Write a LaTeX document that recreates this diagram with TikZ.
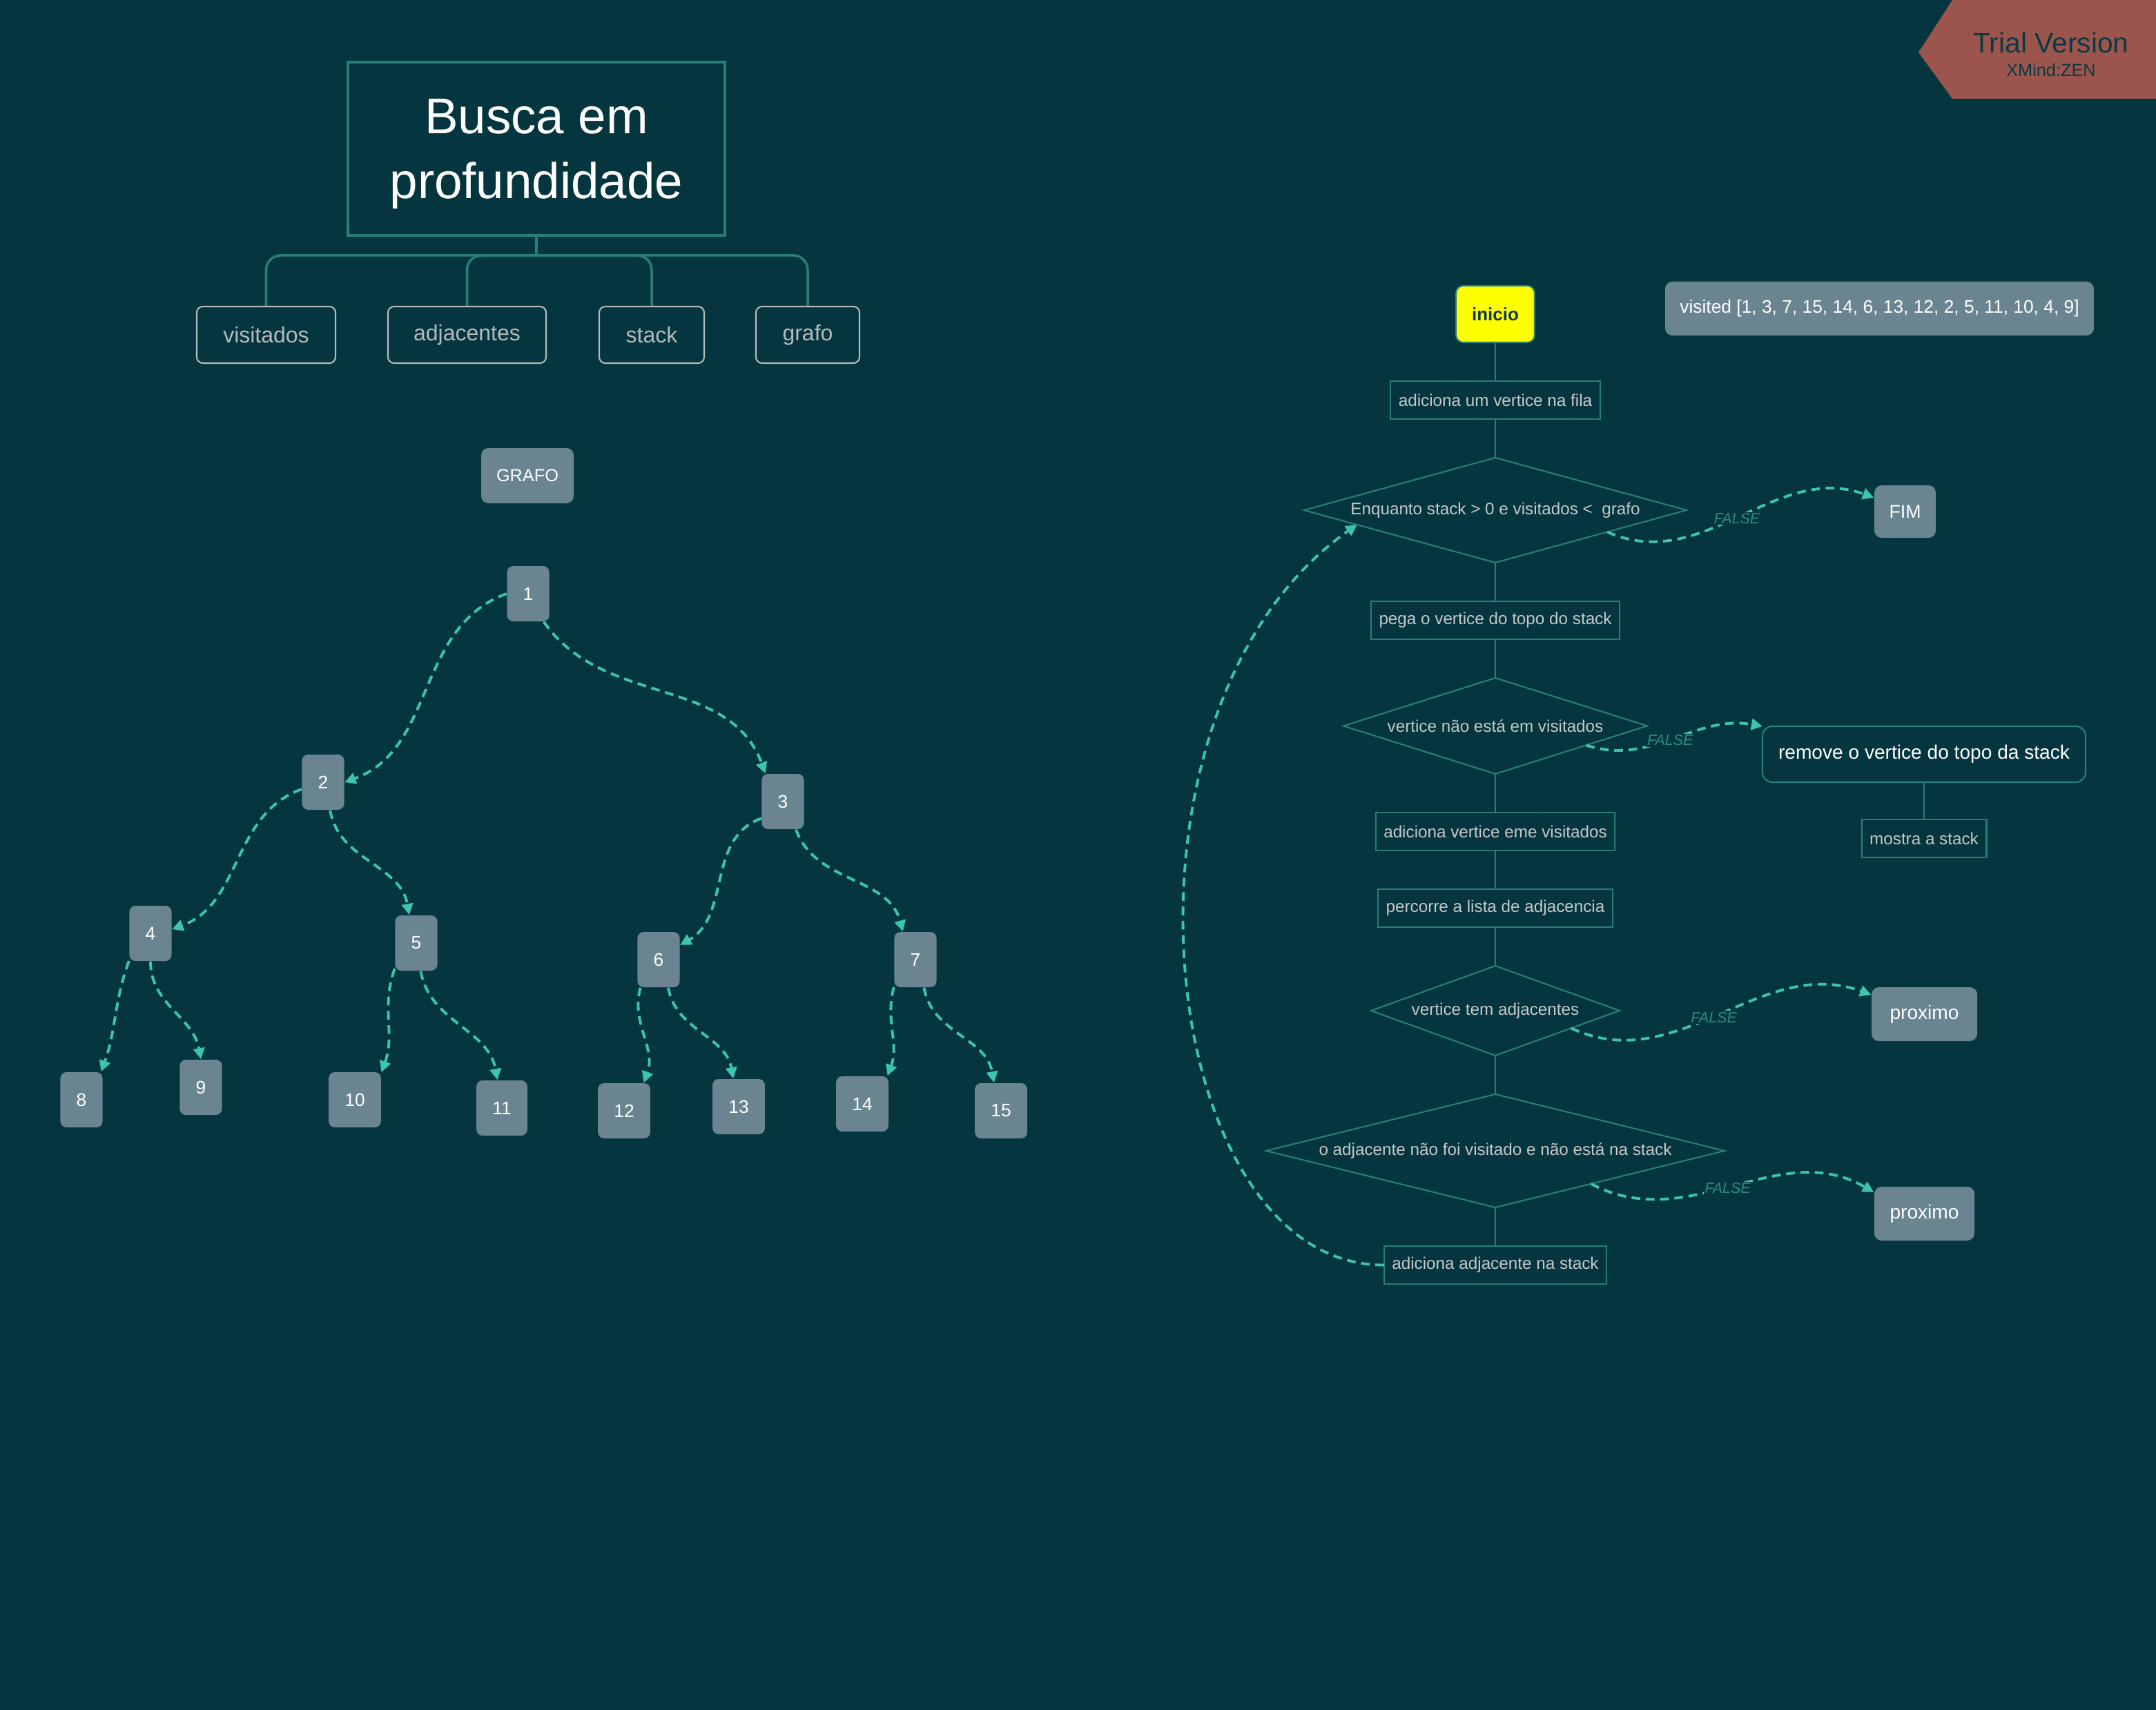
\documentclass[tikz,border=0pt]{standalone}
\usepackage{fontspec}
\setmainfont{Liberation Sans}
\usepackage{tikz}
\usetikzlibrary{positioning,arrows.meta,shapes.geometric}
\definecolor{bgc}{HTML}{05363F}
\definecolor{rim}{HTML}{2A7E79}
\definecolor{walk}{HTML}{3CC4B0}
\definecolor{slate}{HTML}{6A8590}
\definecolor{soft}{HTML}{C4C8C8}
\definecolor{pale}{HTML}{B5BABA}
\definecolor{falsec}{HTML}{2C8C82}
\definecolor{banner}{HTML}{9B554C}
\definecolor{bannerink}{HTML}{0B3A44}
\definecolor{startc}{HTML}{FFFF00}
\newcommand{\fsz}[1]{\fontsize{#1}{#1}\selectfont}

\begin{document}
\begin{tikzpicture}[font=\fsz{6.9}, node distance=0.56cm,
    walk/.style={draw=walk, line width=1.1pt, dash pattern=on 3.6pt off 2.3pt, -{Triangle[length=4.6pt,width=4.6pt]}},
    stem/.style={draw=rim, line width=0.5pt},
    branch/.style={draw=rim, line width=1pt, rounded corners=6pt},
    topic/.style={draw=pale, line width=0.6pt, rounded corners=2.5pt, text=pale, minimum height=0.82cm, font=\fsz{9.1}},
    vtx/.style={fill=slate, rounded corners=2.5pt, text=white, minimum width=0.6cm, minimum height=0.8cm, inner xsep=6.6pt, font=\fsz{7.5}},
    card/.style={fill=slate, rounded corners=3pt, text=white, inner sep=0pt},
    stepbox/.style={draw=rim, line width=0.6pt, text=soft, minimum height=0.55cm, inner xsep=3.3pt, outer sep=0pt},
    cond/.style={diamond, draw=rim, line width=0.6pt, text=soft, inner sep=0pt, outer sep=0pt},
    falsetag/.style={font=\itshape\fsz{6.1}, text=falsec, fill=bgc, inner sep=0.5pt}]

  \fill[bgc] (0,0) rectangle (31.23,-24.77);
  \useasboundingbox (0,0) rectangle (31.23,-24.77);

  \node[draw=rim, line width=1.1pt, text=white, align=center, minimum width=5.46cm, minimum height=2.51cm,
    text depth=0pt, font=\fontsize{20.7}{26.7}\selectfont] (title) at (7.77,-2.155) {Busca em\\profundidade};
  \node[topic, minimum width=2.01cm] (vis) at (3.855,-4.85) {visitados};
  \node[topic, minimum width=2.29cm] (adj) at (6.765,-4.85) {adjacentes};
  \node[topic, minimum width=1.52cm] (stk) at (9.44,-4.85) {stack};
  \node[topic, minimum width=1.50cm] (gfo) at (11.70,-4.85) {grafo};
  \draw[branch] (title.south) -- ++(0,-0.27) coordinate (hub);
  \draw[branch] (vis.north) |- (hub) -| (gfo.north);
  \draw[branch] (adj.north) |- (hub) -| (stk.north);

  \node[card, minimum width=1.34cm, minimum height=0.8cm, font=\fsz{7.2}] (grafo) at (7.64,-6.89) {GRAFO};

  \node[vtx] (v1) at (7.65,-8.60) {1};
  \node[vtx] (v2) at (4.68,-11.33) {2};
  \node[vtx] (v3) at (11.34,-11.61) {3};
  \node[vtx] (v4) at (2.18,-13.52) {4};
  \node[vtx] (v5) at (6.03,-13.66) {5};
  \node[vtx] (v6) at (9.54,-13.90) {6};
  \node[vtx] (v7) at (13.26,-13.90) {7};
  \node[vtx] (v8) at (1.18,-15.93) {8};
  \node[vtx] (v9) at (2.91,-15.75) {9};
  \node[vtx] (v10) at (5.14,-15.93) {10};
  \node[vtx] (v11) at (7.27,-16.05) {11};
  \node[vtx] (v12) at (9.04,-16.09) {12};
  \node[vtx] (v13) at (10.70,-16.03) {13};
  \node[vtx] (v14) at (12.49,-15.99) {14};
  \node[vtx] (v15) at (14.50,-16.09) {15};

  \foreach \a/\sa/\o/\b/\sb/\i in {v1/west/200/v2/east/20, v1/-61/-55/v3/122/110,
      v2/198/200/v4/11/20, v2/-76/-80/v5/104/100, v4/232/-110/v8/55/70, v4/-90/-90/v9/90/100,
      v5/230/-110/v10/46/70, v5/-81/-80/v11/99/100, v3/218/200/v6/34/30, v3/-65/-70/v7/114/105,
      v6/237/-105/v12/55/70, v6/-71/-80/v13/101/100, v7/232/-105/v14/48/70, v7/-73/-80/v15/104/100}
    \draw[walk] (\a.\sa) to[out=\o, in=\i] (\b.\sb);

  \node[fill=startc, draw=rim, line width=0.6pt, rounded corners=3pt, text=bannerink, font=\bfseries\fsz{7.4},
    minimum width=1.14cm, minimum height=0.82cm, outer sep=0pt] (inicio) at (21.66,-4.55) {inicio};
  \node[card, minimum width=6.21cm, minimum height=0.78cm, font=\fsz{7.5}] (visited) at (27.225,-4.47)
    {visited [1, 3, 7, 15, 14, 6, 13, 12, 2, 5, 11, 10, 4, 9]};
  \node[stepbox, below=of inicio] (fila) {adiciona um vertice na fila};
  \node[cond, below=of fila, aspect=3.64, minimum width=5.54cm, minimum height=1.52cm] (d1)
    {Enquanto stack > 0 e visitados < \ grafo};
  \node[stepbox, below=of d1] (pega) {pega o vertice do topo do stack};
  \node[cond, below=of pega, aspect=3.17, minimum width=4.40cm, minimum height=1.39cm] (d2)
    {vertice não está em visitados};
  \node[stepbox, below=of d2] (addvis) {adiciona vertice eme visitados};
  \node[stepbox, below=of addvis] (lista) {percorre a lista de adjacencia};
  \node[cond, below=of lista, aspect=2.77, minimum width=3.60cm, minimum height=1.30cm] (d3)
    {vertice tem adjacentes};
  \node[cond, below=of d3, aspect=4.05, minimum width=6.64cm, minimum height=1.64cm] (d4)
    {o adjacente não foi visitado e não está na stack};
  \node[stepbox, below=of d4] (push) {adiciona adjacente na stack};

  \node[card, minimum width=0.89cm, minimum height=0.76cm, font=\fsz{7.6}] (fim) at (27.595,-7.41) {FIM};
  \node[draw=rim, line width=0.6pt, rounded corners=4pt, text=white, font=\fsz{8},
    minimum width=4.68cm, minimum height=0.81cm, outer sep=0pt] (remove) at (27.87,-10.925) {remove o vertice do topo da stack};
  \node[stepbox, below=0.54cm of remove] (mostra) {mostra a stack};
  \node[card, minimum width=1.53cm, minimum height=0.78cm, font=\fsz{8}] (prox1) at (27.875,-14.69) {proximo};
  \node[card, minimum width=1.45cm, minimum height=0.78cm, font=\fsz{8}] (prox2) at (27.875,-17.58) {proximo};

  \draw[stem] (inicio) -- (fila) -- (d1) -- (pega) -- (d2) -- (addvis) -- (lista) -- (d3) -- (d4) -- (push);
  \draw[stem] (remove) -- (mostra);

  \draw[walk] (d1.-11) to[out=-24, in=160] node[falsetag, pos=0.49] {FALSE} (fim.156);
  \draw[walk] (d2.-12) to[out=-18, in=170] node[falsetag, pos=0.48] {FALSE} (remove.north west);
  \draw[walk] (d3.-13) to[out=-25, in=160] node[falsetag, pos=0.48] {FALSE} (prox1.160);
  \draw[walk] (d4.-19) to[out=-28, in=150] node[falsetag, pos=0.48] {FALSE} (prox2.157);
  \draw[walk] (push.west) to[out=180, in=215, out looseness=0.8, in looseness=1.1] (d1.186);

  \fill[banner] (27.79,-0.76) -- (28.28,0) -- (31.23,0) -- (31.23,-1.43) -- (28.28,-1.43) -- cycle;
  \node[text=bannerink, font=\fsz{11.6}] (trial) at (29.71,-0.62) {Trial Version};
  \node[text=bannerink, font=\fsz{7.2}] (zen) at (29.71,-1.01) {XMind:ZEN};
\end{tikzpicture}
\end{document}
